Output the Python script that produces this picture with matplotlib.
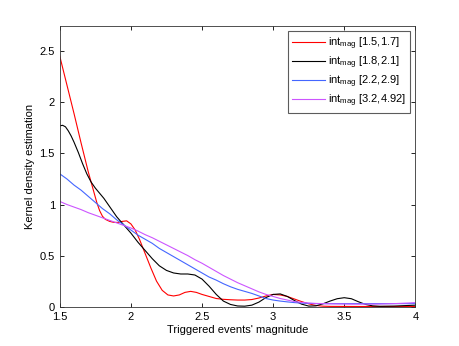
import numpy as np
import matplotlib
matplotlib.use("Agg")
import matplotlib.pyplot as plt
from matplotlib.ticker import FormatStrFormatter

plt.rcParams['font.family'] = ['Liberation Sans', 'DejaVu Sans']
plt.rcParams['mathtext.fontset'] = 'custom'
plt.rcParams['mathtext.rm'] = 'Liberation Sans'

# ---- values ----
# int_mag [1.5,1.7]
mag_a = [1.5, 1.55, 1.6, 1.65, 1.7, 1.73, 1.76, 1.78, 1.8, 1.82, 1.85, 1.88, 1.91,
         1.94, 1.97, 2.0, 2.03, 2.06, 2.1, 2.14, 2.18, 2.22, 2.26, 2.3, 2.34, 2.38,
         2.42, 2.46, 2.5, 2.55, 2.6, 2.65, 2.7, 2.75, 2.8, 2.85, 2.9, 2.95, 3.0,
         3.05, 3.1, 3.15, 3.2, 3.25, 3.3, 3.35, 3.4, 3.6, 4.0]
kde_a = [2.45, 2.17, 1.89, 1.60, 1.32, 1.17, 1.02, 0.94, 0.885, 0.855, 0.835, 0.825,
         0.825, 0.835, 0.84, 0.81, 0.75, 0.66, 0.52, 0.38, 0.25, 0.16, 0.115, 0.105,
         0.115, 0.14, 0.15, 0.14, 0.12, 0.10, 0.08, 0.072, 0.068, 0.065, 0.065, 0.07,
         0.085, 0.105, 0.12, 0.115, 0.10, 0.075, 0.05, 0.028, 0.012, 0.005, 0.003,
         0.002, 0.002]

# int_mag [1.8,2.1]
mag_b = [1.5, 1.52, 1.54, 1.56, 1.58, 1.6, 1.63, 1.66, 1.69, 1.72, 1.75, 1.78, 1.81,
         1.85, 1.9, 1.95, 2.0, 2.05, 2.1, 2.15, 2.2, 2.25, 2.3, 2.35, 2.4, 2.45, 2.5,
         2.55, 2.6, 2.65, 2.7, 2.75, 2.8, 2.85, 2.9, 2.95, 3.0, 3.05, 3.1, 3.15, 3.2,
         3.25, 3.3, 3.35, 3.4, 3.45, 3.5, 3.55, 3.6, 3.65, 3.7, 3.75, 3.85, 4.0]
kde_b = [1.77, 1.775, 1.76, 1.72, 1.67, 1.61, 1.51, 1.40, 1.30, 1.22, 1.16, 1.11, 1.06,
         0.98, 0.88, 0.80, 0.72, 0.63, 0.55, 0.47, 0.40, 0.355, 0.33, 0.32, 0.32, 0.31,
         0.27, 0.20, 0.12, 0.055, 0.022, 0.007, 0.005, 0.015, 0.045, 0.09, 0.12, 0.125,
         0.10, 0.06, 0.025, 0.006, 0.008, 0.028, 0.055, 0.078, 0.088, 0.078, 0.048,
         0.022, 0.008, 0.004, 0.006, 0.015]

# int_mag [2.2,2.9] and [3.2,4.92] on a 0.05 grid
mag_cd = list(np.round(np.arange(1.5, 4.0001, 0.05), 2))
kde_c = [1.30, 1.25, 1.19, 1.14, 1.08, 1.02, 0.96, 0.91, 0.85, 0.80,
         0.75, 0.70, 0.66, 0.62, 0.57, 0.53, 0.49, 0.45, 0.41, 0.37,
         0.33, 0.29, 0.26, 0.225, 0.195, 0.17, 0.15, 0.13, 0.105, 0.08,
         0.065, 0.055, 0.047, 0.04, 0.035, 0.032, 0.03, 0.03, 0.03, 0.03,
         0.03, 0.03, 0.03, 0.03, 0.03, 0.03, 0.03, 0.03, 0.03, 0.03,
         0.03]
kde_d = [1.03, 1.00, 0.975, 0.95, 0.92, 0.895, 0.87, 0.845, 0.82, 0.795,
         0.77, 0.74, 0.705, 0.675, 0.64, 0.605, 0.57, 0.535, 0.50, 0.46,
         0.425, 0.385, 0.345, 0.305, 0.27, 0.235, 0.205, 0.175, 0.145, 0.12,
         0.10, 0.08, 0.065, 0.05, 0.042, 0.036, 0.032, 0.03, 0.028, 0.027,
         0.026, 0.025, 0.025, 0.025, 0.025, 0.026, 0.028, 0.03, 0.033, 0.036,
         0.04]

labels = [r'int$_{\mathrm{mag}}$ [1.5,1.7]', r'int$_{\mathrm{mag}}$ [1.8,2.1]',
          r'int$_{\mathrm{mag}}$ [2.2,2.9]', r'int$_{\mathrm{mag}}$ [3.2,4.92]']
colours = ['#ff0000', '#000000', '#4466ff', '#cc55ff']

fig = plt.figure(figsize=(4.6, 3.46), dpi=100)
ax = fig.add_axes([0.130, 0.1136, 0.773, 0.8122])

series = [(mag_a, kde_a), (mag_b, kde_b), (mag_cd, kde_c), (mag_cd, kde_d)]
for (xs, ys), c, lab in zip(series, colours, labels):
    ax.plot(xs, ys, color=c, lw=0.8, label=lab)

ax.set_xlim(1.5, 4)
ax.set_ylim(0, 2.75)
ax.set_xticks([1.5, 2, 2.5, 3, 3.5, 4])
ax.set_yticks([0, 0.5, 1, 1.5, 2, 2.5])
ax.xaxis.set_major_formatter(FormatStrFormatter('%g'))
ax.yaxis.set_major_formatter(FormatStrFormatter('%g'))
ax.tick_params(direction='in', top=True, right=True, length=3, width=0.6,
               labelsize=8)
ax.tick_params(axis='x', pad=4)
for s in ax.spines.values():
    s.set_linewidth(0.6)
    s.set_color('#333333')

ax.set_xlabel("Triggered events' magnitude", fontsize=8, labelpad=2)
ax.set_ylabel("Kernel density estimation", fontsize=8, labelpad=3)

leg = ax.legend(loc='upper right', fontsize=8, frameon=True, fancybox=False,
                edgecolor='#333333', handlelength=2.9, borderaxespad=0.5,
                labelspacing=0.25, handletextpad=0.3, borderpad=0.35)
leg.get_frame().set_linewidth(0.8)

fig.savefig("out.png", dpi=100)
